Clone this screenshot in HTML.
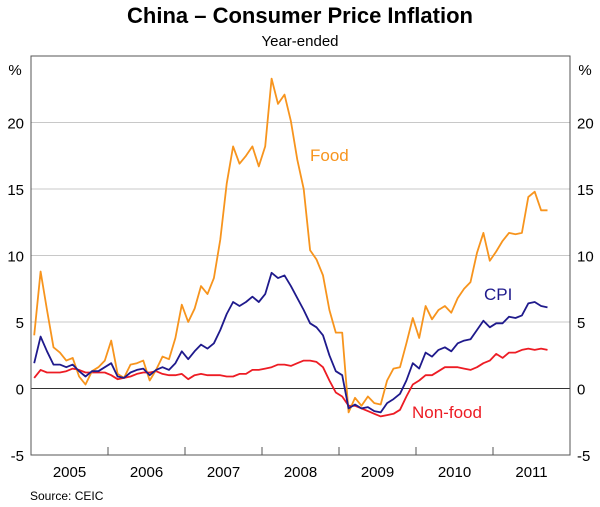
<!DOCTYPE html>
<html><head><meta charset="utf-8">
<style>
body{margin:0;background:#fff;}
svg{display:block;font-family:"Liberation Sans",Arial,sans-serif;}
</style></head>
<body>
<svg id="chart" width="600" height="507" viewBox="0 0 600 507">
<text x="300" y="23" text-anchor="middle" font-size="22" font-weight="bold" fill="#000">China – Consumer Price Inflation</text>
<text x="300" y="46" text-anchor="middle" font-size="15" fill="#000">Year-ended</text>
<g id="grid"></g>
<g id="series"></g>
<rect x="31" y="56" width="539" height="399" fill="none" stroke="#555" stroke-width="1"/>
<g id="axes"></g>
<text x="15" y="75" text-anchor="middle" font-size="15">%</text>
<text x="585" y="75" text-anchor="middle" font-size="15">%</text>
<text x="310" y="161" font-size="17" fill="#F7941D">Food</text>
<text x="484" y="300" font-size="17" fill="#1F1A8C">CPI</text>
<text x="412" y="418" font-size="17" fill="#ED1C24">Non-food</text>
<text x="30" y="500" font-size="12" fill="#000">Source: CEIC</text>
</svg>
<script>
const yTicks=[-5,0,5,10,15,20];
const years=["2005","2006","2007","2008","2009","2010","2011"];
const food=[4.0,8.8,5.9,3.1,2.7,2.1,2.3,0.9,0.3,1.3,1.6,2.1,3.6,1.1,0.8,1.8,1.9,2.1,0.6,1.4,2.4,2.2,3.8,6.3,5.0,6.0,7.7,7.1,8.3,11.2,15.4,18.2,16.9,17.5,18.2,16.7,18.2,23.3,21.4,22.1,20.1,17.2,
15.0,10.4,9.7,8.5,5.9,4.2,4.2,-1.8,-0.7,-1.3,-0.6,-1.1,-1.2,0.6,1.5,1.6,3.4,5.3,3.8,6.2,5.2,5.9,6.2,5.7,6.8,7.5,8.0,10.2,11.7,9.6,10.3,11.1,11.7,11.6,11.7,14.4,14.8,13.4,13.4];
const cpi=[1.9,3.9,2.8,1.8,1.8,1.6,1.8,1.3,0.9,1.3,1.3,1.6,1.9,0.9,0.8,1.2,1.4,1.5,1.0,1.4,1.6,1.4,1.9,2.8,2.2,2.8,3.3,3.0,3.4,4.4,5.6,6.5,6.2,6.5,6.9,6.5,7.1,8.7,8.3,8.5,7.7,6.8,
5.9,4.9,4.6,4.0,2.5,1.3,1.0,-1.5,-1.2,-1.5,-1.4,-1.7,-1.8,-1.1,-0.8,-0.4,0.6,1.9,1.5,2.7,2.4,2.9,3.1,2.8,3.4,3.6,3.7,4.4,5.1,4.6,4.9,4.9,5.4,5.3,5.5,6.4,6.5,6.2,6.1];
const nonFood=[0.8,1.4,1.2,1.2,1.2,1.3,1.5,1.4,1.2,1.2,1.2,1.2,1.0,0.7,0.8,0.9,1.1,1.2,1.2,1.3,1.1,1.0,1.0,1.1,0.7,1.0,1.1,1.0,1.0,1.0,0.9,0.9,1.1,1.1,1.4,1.4,1.5,1.6,1.8,1.8,1.7,1.9,
2.1,2.1,2.0,1.6,0.6,-0.3,-0.6,-1.3,-1.3,-1.5,-1.7,-1.9,-2.1,-2.0,-1.9,-1.6,-0.6,0.3,0.6,1.0,1.0,1.3,1.6,1.6,1.6,1.5,1.4,1.6,1.9,2.1,2.6,2.3,2.7,2.7,2.9,3.0,2.9,3.0,2.9];
const NS="http://www.w3.org/2000/svg";
const L=31,R=570,T=56,B=455,yMin=-5,yMax=25;
const monthW=(R-L)/(years.length*12);
function xScale(i){return L+(i+0.5)*monthW;}
function yScale(v){return B-(v-yMin)/(yMax-yMin)*(B-T);}
function mk(tag,attrs,parent){const e=document.createElementNS(NS,tag);for(const k in attrs)e.setAttribute(k,attrs[k]);parent.appendChild(e);return e;}
const grid=document.getElementById('grid'),axes=document.getElementById('axes'),ser=document.getElementById('series');
yTicks.forEach(v=>{
  const y=yScale(v);
  if(v>yMin){
    const g=mk('line',{x1:L,x2:R,y1:y,y2:y,stroke:v===0?'#333':'#c8c8c8','stroke-width':1},grid);
    
    
  }
  const tl=mk('text',{x:L-7,y:y+6,'text-anchor':'end','font-size':15},axes);tl.textContent=v;
  
  
  const tr=mk('text',{x:R+7,y:y+6,'text-anchor':'start','font-size':15},axes);tr.textContent=v;
  
  
});
years.forEach((yr,k)=>{
  const x0=L+k*12*monthW;
  if(k>0){const t=mk('line',{x1:x0,x2:x0,y1:B,y2:B-8,stroke:'#555','stroke-width':1},axes);
    
    }
  const lab=mk('text',{x:x0+6*monthW,y:B+22,'text-anchor':'middle','font-size':15},axes);lab.textContent=yr;
  
  
});
function line(data,color,name){
  const d=data.map((v,i)=>(i?'L':'M')+xScale(i).toFixed(1)+','+yScale(v).toFixed(1)).join('');
  const p=mk('path',{d:d,fill:'none',stroke:color,'stroke-width':1.8,'stroke-linejoin':'round'},ser);
  
  
}
line(nonFood,'#ED1C24','non-food-line');
line(food,'#F7941D','food-line');
line(cpi,'#1F1A8C','cpi-line');
</script>
</body></html>
